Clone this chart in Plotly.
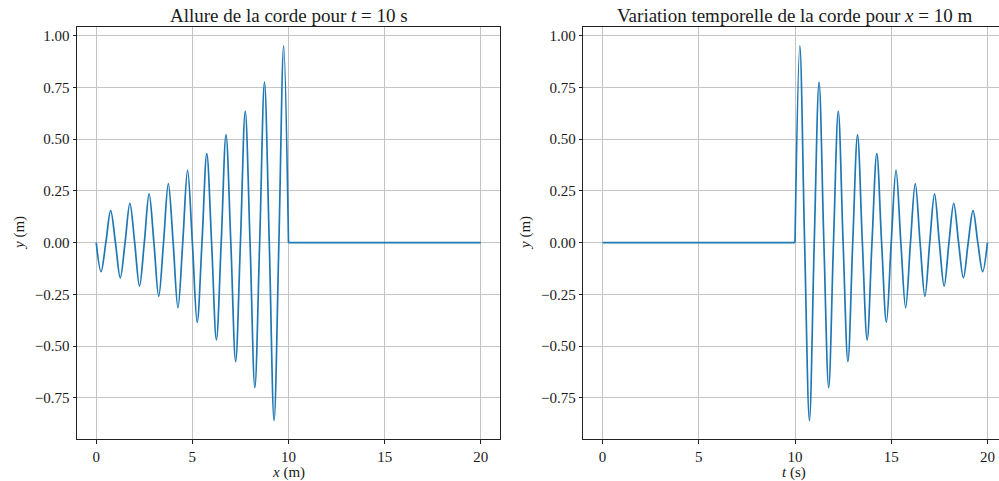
import plotly.graph_objects as go

# ---- data ----
# Left: shape of the string at t = 10 s (extrema and zero crossings)
x_wave = [0, 0.25, 0.5, 0.75, 1.0, 1.25, 1.5, 1.75, 2.0, 2.25, 2.5, 2.75, 3.0, 3.25, 3.5,
          3.75, 4.0, 4.25, 4.5, 4.75, 5.0, 5.25, 5.5, 5.75, 6.0, 6.25, 6.5, 6.75, 7.0,
          7.25, 7.5, 7.75, 8.0, 8.25, 8.5, 8.75, 9.0, 9.25, 9.5, 9.75, 10.0]
y_wave = [0, -0.14, 0, 0.155, 0, -0.17, 0, 0.19, 0, -0.21, 0, 0.235, 0, -0.26, 0,
          0.285, 0, -0.315, 0, 0.35, 0, -0.385, 0, 0.43, 0, -0.47, 0, 0.52, 0,
          -0.575, 0, 0.635, 0, -0.70, 0, 0.775, 0, -0.86, 0, 0.95, 0]
x_rest = [10, 20]
y_rest = [0, 0]

# Right: time variation at x = 10 m
t_rest = [0, 10]
yt_rest = [0, 0]
t_wave = [10.0, 10.25, 10.5, 10.75, 11.0, 11.25, 11.5, 11.75, 12.0, 12.25, 12.5, 12.75,
          13.0, 13.25, 13.5, 13.75, 14.0, 14.25, 14.5, 14.75, 15.0, 15.25, 15.5, 15.75,
          16.0, 16.25, 16.5, 16.75, 17.0, 17.25, 17.5, 17.75, 18.0, 18.25, 18.5, 18.75,
          19.0, 19.25, 19.5, 19.75, 20.0]
yt_wave = [0, 0.95, 0, -0.86, 0, 0.775, 0, -0.70, 0, 0.635, 0, -0.575,
           0, 0.52, 0, -0.47, 0, 0.43, 0, -0.385, 0, 0.35, 0, -0.315,
           0, 0.285, 0, -0.26, 0, 0.235, 0, -0.21, 0, 0.19, 0, -0.17,
           0, 0.155, 0, -0.14, 0]

x_ticks = [0, 5, 10, 15, 20]
y_ticks = [-0.75, -0.5, -0.25, 0.0, 0.25, 0.5, 0.75, 1.0]

title_left = "Allure de la corde pour <i>t</i> = 10 s"
title_right = "Variation temporelle de la corde pour <i>x</i> = 10 m"
xlabel_left = "<i>x</i> (m)"
xlabel_right = "<i>t</i> (s)"
ylabel = "<i>y</i> (m)"

# ---- figure ----
W, H = 999, 481
FONT = "Liberation Serif"
BLUE = "#1f77b4"
TXT = "#1a1a1a"

fig = go.Figure()
line = dict(color=BLUE, width=1.7)
fig.add_trace(go.Scatter(x=x_wave, y=y_wave, mode="lines", line=dict(**line, shape="spline"),
                         xaxis="x", yaxis="y", showlegend=False))
fig.add_trace(go.Scatter(x=x_rest, y=y_rest, mode="lines", line=line,
                         xaxis="x", yaxis="y", showlegend=False))
fig.add_trace(go.Scatter(x=t_rest, y=yt_rest, mode="lines", line=line,
                         xaxis="x2", yaxis="y2", showlegend=False))
fig.add_trace(go.Scatter(x=t_wave, y=yt_wave, mode="lines", line=dict(**line, shape="spline"),
                         xaxis="x2", yaxis="y2", showlegend=False))

ydom = [1 - 439.3 / H, 1 - 27.3 / H]
axis_common = dict(showgrid=True, gridcolor="#c4c4c4", gridwidth=1, zeroline=False,
                   showline=True, linecolor="#222", linewidth=1, ticks="outside",
                   ticklen=3.5, tickwidth=1, tickcolor="#222",
                   tickfont=dict(family=FONT, size=15, color=TXT))

fig.update_layout(
    width=W, height=H,
    margin=dict(l=0, r=0, t=0, b=0),
    paper_bgcolor="white", plot_bgcolor="white",
    xaxis=dict(domain=[77 / W, 500 / W], range=[-1, 21], tickvals=x_ticks,
               anchor="y", mirror=True, **axis_common),
    yaxis=dict(domain=ydom, range=[-0.95, 1.04], tickvals=y_ticks, tickformat=".2f",
               anchor="x", mirror=True, **axis_common),
    xaxis2=dict(domain=[583.3 / W, 1.0], range=[-1, 20.6], tickvals=x_ticks,
                anchor="y2", mirror=True, **axis_common),
    yaxis2=dict(domain=ydom, range=[-0.95, 1.04], tickvals=y_ticks, tickformat=".2f",
                anchor="x2", mirror=False, **axis_common),
)

def ann(text, xpx, ypx, size, angle=0):
    return dict(text=text, x=xpx / W, y=1 - ypx / H, xref="paper", yref="paper",
                showarrow=False, xanchor="center", yanchor="middle", textangle=angle,
                borderpad=0, font=dict(family=FONT, size=size, color=TXT))

fig.update_layout(annotations=[
    ann(title_left, 288.5, 15, 19),
    ann(title_right, 794, 15, 19),
    ann(xlabel_left, 288.5, 472, 15),
    ann(xlabel_right, 794, 472, 15),
    ann(ylabel, 19, 233, 15, -90),
    ann(ylabel, 525, 233, 15, -90),
])

fig.write_html("out.html", config={"displayModeBar": False},
               post_script="document.body.style.margin='0';document.body.style.overflow='hidden';")
